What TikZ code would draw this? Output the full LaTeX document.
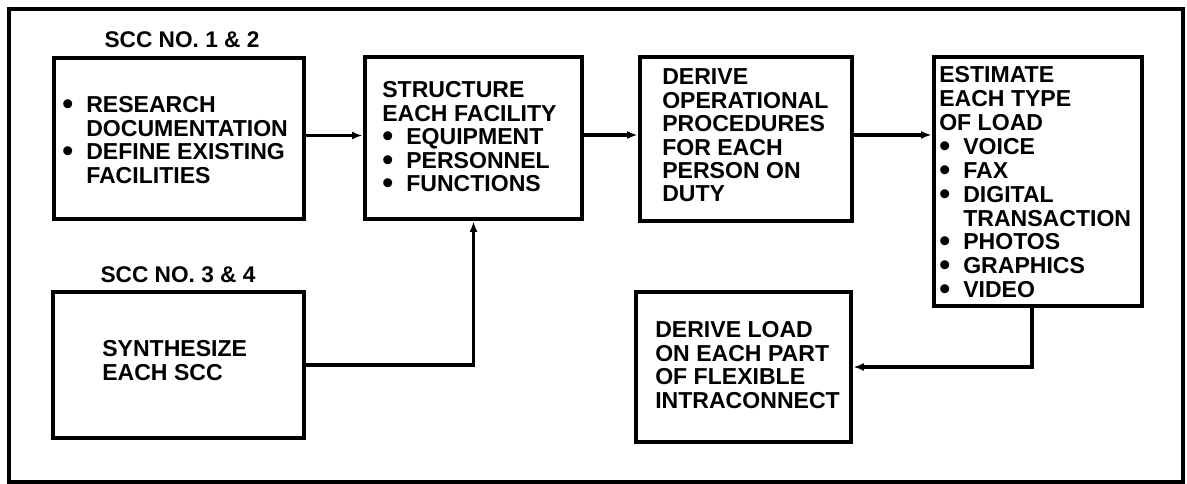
\documentclass[tikz,border=0pt]{standalone}
\usepackage{fontspec}
\setmainfont{Liberation Sans}
\usetikzlibrary{arrows.meta,calc}
\newcommand\bul{\makebox[18pt][l]{\raisebox{-0.15ex}{\scalebox{1.35}{•}}}}
\newcommand\ind{\hspace*{18pt}}
\begin{document}
\begin{tikzpicture}[x=0.75pt,y=-0.75pt,
  frame/.style={draw,line width=2.3pt},
  blk/.style={draw,line width=3.4pt,inner sep=0pt},
  txt/.style={anchor=north west,inner sep=0pt,align=left,
    font=\fontsize{17.3}{17.6}\selectfont\bfseries},
  lbl/.style={anchor=base,inner sep=0pt,
    font=\fontsize{17}{18}\selectfont\bfseries},
  conn/.style={line width=2.6pt,-{Latex[length=8pt,width=6pt]}}]
\useasboundingbox (0,0) rectangle (1187,484);
\fill[white] (0,0) rectangle (1187,484);
\draw[frame] (9,9) rectangle (1183,482);
% boxes
\node[blk,minimum width=250*0.75pt,minimum height=161*0.75pt] (b1) at (179,138.5) {};
\node[blk,minimum width=217*0.75pt,minimum height=162*0.75pt] (b2) at (473.5,138) {};
\node[blk,minimum width=212*0.75pt,minimum height=164*0.75pt] (b3) at (746,139) {};
\node[blk,minimum width=208*0.75pt,minimum height=249*0.75pt] (b4) at (1038,181.5) {};
\node[blk,minimum width=251*0.75pt,minimum height=146*0.75pt] (b5) at (178.5,365) {};
\node[blk,minimum width=215*0.75pt,minimum height=150*0.75pt] (b6) at (743.5,367) {};
% labels
\node[lbl] (l1) at (182,48) {SCC NO. 1 \& 2};
\node[lbl] (l2) at (178,282) {SCC NO. 3 \& 4};
% texts
\node[txt] (t1) at (62,96.5) {\bul RESEARCH\\\ind DOCUMENTATION\\\bul DEFINE EXISTING\\\ind FACILITIES};
\node[txt] (t2) at (382,81.5) {STRUCTURE\\EACH FACILITY\\\bul EQUIPMENT\\\bul PERSONNEL\\\bul FUNCTIONS};
\node[txt] (t3) at (662,68.5) {DERIVE\\OPERATIONAL\\PROCEDURES\\FOR EACH\\PERSON ON\\DUTY};
\node[txt,font=\fontsize{17.3}{17.9}\selectfont\bfseries] (t4) at (939,66.5) {ESTIMATE\\EACH TYPE\\OF LOAD\\\bul VOICE\\\bul FAX\\\bul DIGITAL\\\ind TRANSACTION\\\bul PHOTOS\\\bul GRAPHICS\\\bul VIDEO};
\node[txt] (t5) at (102,340.5) {SYNTHESIZE\\EACH SCC};
\node[txt] (t6) at (655,321.5) {DERIVE LOAD\\ON EACH PART\\OF FLEXIBLE\\INTRACONNECT};
% connectors
\coordinate (a1) at ($(b1.east)+(0,-3)$);
\coordinate (a2) at ($(b2.east)+(0,-3)$);
\coordinate (a3) at ($(b3.east)+(0,-4)$);
\coordinate (k4) at ($(b4.south)+(-6,0)$);
\draw[conn] (a1) -- (a1 -| b2.west);
\draw[conn] (a2) -- (a2 -| b3.west);
\draw[conn] (a3) -- (a3 -| b4.west);
\draw[conn] (b5.east) -| (b2.south);
\draw[conn] (k4) |- (b6.east);
\end{tikzpicture}
\end{document}
